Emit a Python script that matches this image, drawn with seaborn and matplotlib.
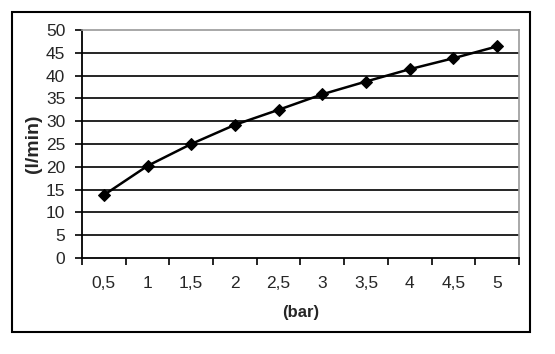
import matplotlib
matplotlib.use("Agg")
import matplotlib.pyplot as plt
import seaborn as sns
import numpy as np
import pandas as pd
from matplotlib.patches import Rectangle

categories = ["0,5", "1", "1,5", "2", "2,5", "3", "3,5", "4", "4,5", "5"]
flow = [13.8, 20.2, 25.0, 29.2, 32.5, 35.9, 38.7, 41.4, 43.8, 46.4]
y_ticks = [0, 5, 10, 15, 20, 25, 30, 35, 40, 45, 50]

sns.set_style("white")
plt.rcParams['font.family'] = ['Liberation Sans', 'DejaVu Sans']

fig = plt.figure(figsize=(5.55, 3.54), dpi=100)
ax = fig.add_axes([0.1477, 0.2712, 0.935 - 0.1477, 0.9153 - 0.2712])

df = pd.DataFrame({"pos": np.arange(len(categories)), "flow": flow})
sns.lineplot(data=df, x="pos", y="flow", ax=ax, color="black", linewidth=1.8,
             marker="D", markersize=6, markeredgecolor="black")

ax.set_xlim(-0.5, len(categories) - 0.5)
ax.set_ylim(0, 50)
ax.set_yticks(y_ticks)
ax.set_yticklabels([str(v) for v in y_ticks], fontsize=12.5)
ax.set_xticks(np.arange(len(categories)))
ax.set_xticklabels(categories, fontsize=12.5)
ax.set_xticks(np.arange(len(categories) + 1) - 0.5, minor=True)
ax.tick_params(axis="x", which="major", length=0, pad=13)
ax.tick_params(axis="x", which="minor", length=5, width=1.2, color="black", direction="out", bottom=True)
ax.tick_params(axis="y", which="major", length=5, width=1.2, color="black", direction="out", left=True, pad=7)

for v in y_ticks[1:-1]:
    ax.axhline(v, color="black", linewidth=1.2, zorder=0)

for s in ["left", "bottom"]:
    ax.spines[s].set_color("black")
    ax.spines[s].set_linewidth(1.3)
for s in ["top", "right"]:
    ax.spines[s].set_color("#999999")
    ax.spines[s].set_linewidth(1.2)

ax.set_xlabel("(bar)", fontsize=12, fontweight="bold", labelpad=10)
ax.set_ylabel("(l/min)", fontsize=14, fontweight="bold", labelpad=3)

fig.patches.append(Rectangle((12 / 555, 1 - 332 / 354), (530 - 12) / 555, (332 - 12) / 354,
                             transform=fig.transFigure, fill=False, edgecolor="black",
                             linewidth=1.5, zorder=10))

fig.savefig("out.png", dpi=100)
